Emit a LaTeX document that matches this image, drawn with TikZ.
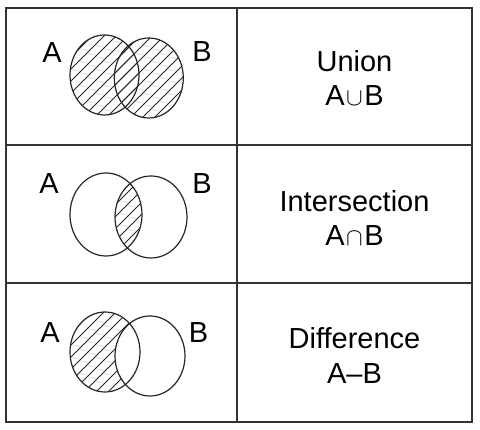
\documentclass[tikz,border=0pt]{standalone}
\usepackage{fontspec}
\setmainfont{Liberation Sans}
\begin{document}
\begin{tikzpicture}[x=1pt,y=-1pt,
  tbl/.style={line width=1.4pt, draw=black!80},
  ring/.style={line width=1.2pt, draw=black!85},
  hatchline/.style={line width=1pt, draw=black!85},
  lbl/.style={font=\fontsize{29}{34}\selectfont, inner sep=0pt, anchor=base}
]
\useasboundingbox (0,0) rectangle (480,430);
\newcommand\myhatch{\foreach \b in {80,92,...,700} {\draw[hatchline] (50,\b-50) -- (210,\b-210);}}
\newcommand\opsym[1]{\hspace{1.5pt}{\fontsize{27}{27}\selectfont$#1$}\hspace{1.5pt}}
% table
\draw[tbl] (6,8) rectangle (472,422);
\draw[tbl] (237,8) -- (237,422);
\draw[tbl] (6,145) -- (472,145);
\draw[tbl] (6,283) -- (472,283);

% row 1: union
\begin{scope}
  \clip (104.5,75) ellipse [x radius=34.5, y radius=40];
  \myhatch
\end{scope}
\begin{scope}
  \clip (148.8,78) ellipse [x radius=34.5, y radius=40];
  \myhatch
\end{scope}
\draw[ring] (104.5,75) ellipse [x radius=34.5, y radius=40];
\draw[ring] (148.8,78) ellipse [x radius=34.5, y radius=40];

% row 2: intersection
\begin{scope}
  \clip (106,214.5) ellipse [x radius=36, y radius=41.5];
  \clip (151,217) ellipse [x radius=36, y radius=41];
  \myhatch
\end{scope}
\draw[ring] (106,214.5) ellipse [x radius=36, y radius=41.5];
\draw[ring] (151,217) ellipse [x radius=36, y radius=41];

% row 3: difference
\begin{scope}
  \clip (105,352) ellipse [x radius=35, y radius=40];
  \myhatch
\end{scope}
\fill[white] (150,356) ellipse [x radius=35, y radius=40];
\draw[ring] (105,352) ellipse [x radius=35, y radius=40];
\draw[ring] (150,356) ellipse [x radius=35, y radius=40];

% set labels
\node[lbl] (a1) at (52,63) {A};
\node[lbl] (b1) at (202,62) {B};
\node[lbl] (a2) at (49,194) {A};
\node[lbl] (b2) at (202,194) {B};
\node[lbl] (a3) at (50,342.7) {A};
\node[lbl] (b3) at (198.5,342.7) {B};

% operation names
\node[lbl] (n1) at (354.5,71.5) {Union};
\node[lbl] (o1) at (354.5,106) {A\opsym{\cup}B};
\node[lbl] (n2) at (354.5,211.5) {Intersection};
\node[lbl] (o2) at (354.5,246) {A\opsym{\cap}B};
\node[lbl] (n3) at (354.5,349) {Difference};
\node[lbl] (o3) at (354.5,384) {A–B};
\end{tikzpicture}
\end{document}
